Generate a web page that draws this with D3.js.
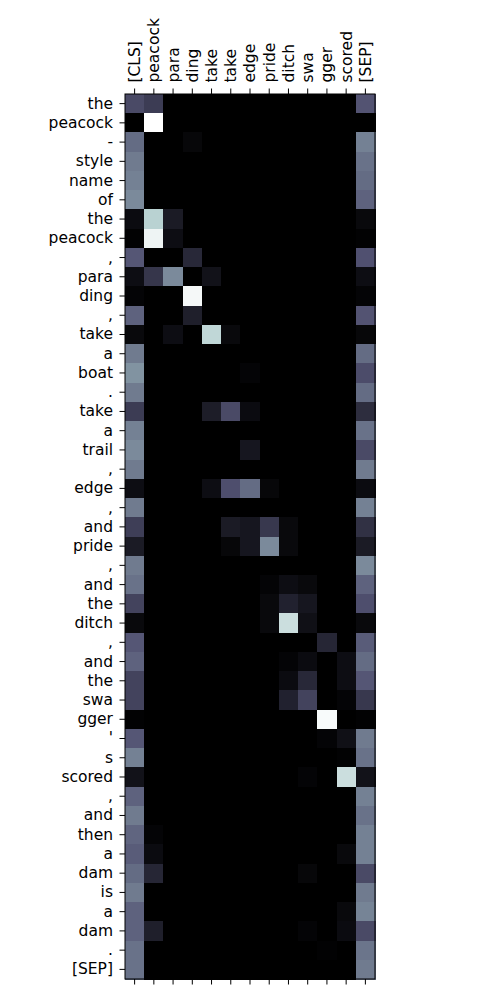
<!DOCTYPE html>
<html>
<head>
<meta charset="utf-8">
<script src="https://cdn.jsdelivr.net/npm/d3@7"></script>
<style>
  body { margin: 0; background: #fff; }
  text { font-family: "DejaVu Sans", sans-serif; }
</style>
</head>
<body>
<div id="chart"></div>
<script>
// key tokens (columns) and query tokens (rows)
var keyTokens = ["[CLS]", "peacock", "para", "ding", "take", "take", "edge", "pride", "ditch", "swa", "gger", "scored", "[SEP]"];
var queryTokens = ["the", "peacock", "-", "style", "name", "of", "the", "peacock", ",", "para", "ding", ",",
  "take", "a", "boat", ".", "take", "a", "trail", ",", "edge", ",", "and", "pride", ",", "and", "the", "ditch",
  ",", "and", "the", "swa", "gger", "'", "s", "scored", ",", "and", "then", "a", "dam", "is", "a", "dam", ".", "[SEP]"];

// attention weights, one row per query token
var weights = [
  [0.33, 0.27, 0, 0, 0, 0, 0, 0, 0, 0, 0, 0, 0.37],
  [0, 1.0, 0, 0, 0, 0, 0, 0, 0, 0, 0, 0, 0],
  [0.45, 0, 0, 0.03, 0, 0, 0, 0, 0, 0, 0, 0, 0.52],
  [0.50, 0, 0, 0, 0, 0, 0, 0, 0, 0, 0, 0, 0.47],
  [0.52, 0, 0, 0, 0, 0, 0, 0, 0, 0, 0, 0, 0.45],
  [0.55, 0, 0, 0, 0, 0, 0, 0, 0, 0, 0, 0, 0.42],
  [0.05, 0.80, 0.12, 0, 0, 0, 0, 0, 0, 0, 0, 0, 0.04],
  [0.01, 0.95, 0.06, 0, 0, 0, 0, 0, 0, 0, 0, 0, 0.01],
  [0.38, 0, 0, 0.18, 0, 0, 0, 0, 0, 0, 0, 0, 0.36],
  [0.06, 0.24, 0.55, 0, 0.08, 0, 0, 0, 0, 0, 0, 0, 0.06],
  [0.02, 0, 0, 0.97, 0, 0, 0, 0, 0, 0, 0, 0, 0.02],
  [0.42, 0, 0, 0.14, 0, 0, 0, 0, 0, 0, 0, 0, 0.37],
  [0.04, 0, 0.06, 0, 0.82, 0.04, 0, 0, 0, 0, 0, 0, 0.03],
  [0.50, 0, 0, 0, 0, 0, 0, 0, 0, 0, 0, 0, 0.45],
  [0.58, 0, 0, 0, 0, 0, 0.02, 0, 0, 0, 0, 0, 0.34],
  [0.50, 0, 0, 0, 0, 0, 0, 0, 0, 0, 0, 0, 0.45],
  [0.27, 0, 0, 0, 0.13, 0.33, 0.05, 0, 0, 0, 0, 0, 0.20],
  [0.52, 0, 0, 0, 0, 0, 0, 0, 0, 0, 0, 0, 0.47],
  [0.55, 0, 0, 0, 0, 0, 0.10, 0, 0, 0, 0, 0, 0.33],
  [0.50, 0, 0, 0, 0, 0, 0, 0, 0, 0, 0, 0, 0.50],
  [0.06, 0, 0, 0, 0.06, 0.35, 0.45, 0.03, 0, 0, 0, 0, 0.05],
  [0.50, 0, 0, 0, 0, 0, 0, 0, 0, 0, 0, 0, 0.52],
  [0.28, 0, 0, 0, 0, 0.12, 0.10, 0.25, 0.04, 0, 0, 0, 0.22],
  [0.12, 0, 0, 0, 0, 0.03, 0.10, 0.55, 0.04, 0, 0, 0, 0.12],
  [0.50, 0, 0, 0, 0, 0, 0, 0, 0, 0, 0, 0, 0.55],
  [0.47, 0, 0, 0, 0, 0, 0, 0.02, 0.06, 0.04, 0, 0, 0.42],
  [0.30, 0, 0, 0, 0, 0, 0, 0.04, 0.15, 0.10, 0, 0, 0.35],
  [0.04, 0, 0, 0, 0, 0, 0, 0.04, 0.85, 0.07, 0, 0, 0.04],
  [0.38, 0, 0, 0, 0, 0, 0, 0, 0, 0, 0.17, 0, 0.40],
  [0.42, 0, 0, 0, 0, 0, 0, 0, 0.02, 0.05, 0, 0.06, 0.45],
  [0.30, 0, 0, 0, 0, 0, 0, 0, 0.05, 0.18, 0, 0.06, 0.38],
  [0.30, 0, 0, 0, 0, 0, 0, 0, 0.15, 0.30, 0, 0.02, 0.25],
  [0.01, 0, 0, 0, 0, 0, 0, 0, 0, 0, 0.98, 0, 0.01],
  [0.38, 0, 0, 0, 0, 0, 0, 0, 0, 0, 0.02, 0.07, 0.50],
  [0.52, 0, 0, 0, 0, 0, 0, 0, 0, 0, 0, 0.01, 0.47],
  [0.08, 0, 0, 0, 0, 0, 0, 0, 0, 0.02, 0, 0.85, 0.08],
  [0.42, 0, 0, 0, 0, 0, 0, 0, 0, 0, 0, 0, 0.52],
  [0.50, 0, 0, 0, 0, 0, 0, 0, 0, 0, 0, 0, 0.47],
  [0.43, 0.02, 0, 0, 0, 0, 0, 0, 0, 0, 0, 0, 0.52],
  [0.40, 0.05, 0, 0, 0, 0, 0, 0, 0, 0, 0, 0.04, 0.52],
  [0.45, 0.17, 0, 0, 0, 0, 0, 0, 0, 0.03, 0, 0, 0.33],
  [0.50, 0, 0, 0, 0, 0, 0, 0, 0, 0, 0, 0, 0.50],
  [0.42, 0, 0, 0, 0, 0, 0, 0, 0, 0, 0, 0.04, 0.53],
  [0.42, 0.14, 0, 0, 0, 0, 0, 0, 0, 0.02, 0, 0.05, 0.33],
  [0.47, 0, 0, 0, 0, 0, 0, 0, 0, 0, 0.01, 0, 0.48],
  [0.47, 0, 0, 0, 0, 0, 0, 0, 0, 0, 0, 0, 0.50]
];

// matplotlib "bone" colormap
function piece(stops, t) {
  for (var i = 1; i < stops.length; i++) {
    if (t <= stops[i][0]) {
      var a = stops[i - 1], b = stops[i];
      return a[1] + (b[1] - a[1]) * (t - a[0]) / (b[0] - a[0]);
    }
  }
  return stops[stops.length - 1][1];
}
var boneR = [[0, 0], [0.746032, 0.652778], [1, 1]];
var boneG = [[0, 0], [0.365079, 0.319444], [0.746032, 0.777778], [1, 1]];
var boneB = [[0, 0], [0.365079, 0.444444], [1, 1]];
function bone(t) {
  t = Math.max(0, Math.min(1, t));
  return d3.rgb(piece(boneR, t) * 255, piece(boneG, t) * 255, piece(boneB, t) * 255) + "";
}

var margin = { top: 94, left: 125 },
    width = 250,
    height = 885,
    fontSize = "15.5px";

var svg = d3.select("#chart")
  .append("svg")
    .attr("width", 500)
    .attr("height", 1000)
  .append("g")
    .attr("transform", `translate(${margin.left}, ${margin.top})`);

var x = d3.scaleBand().domain(d3.range(keyTokens.length)).range([0, width]).padding(0);
var y = d3.scaleBand().domain(d3.range(queryTokens.length)).range([0, height]).padding(0);
var color = d3.scaleSequential(bone).domain([0, 1]);

// cells
var cells = [];
weights.forEach(function (row, i) {
  row.forEach(function (v, j) { cells.push({ r: i, c: j, v: v }); });
});

svg.selectAll("rect.cell")
  .data(cells)
  .enter()
  .append("rect")
    .attr("class", "cell")
    .attr("x", d => x(d.c))
    .attr("y", d => y(d.r))
    .attr("width", x.bandwidth() + 0.5)
    .attr("height", y.bandwidth() + 0.5)
    .attr("fill", d => color(d.v))
    .attr("shape-rendering", "crispEdges");

// axes
var xTop = svg.append("g")
  .call(d3.axisTop(x).tickFormat(i => keyTokens[i]).tickSize(5.5).tickPadding(5.5))
  .attr("font-size", fontSize);
xTop.selectAll("text")
  .attr("transform", "rotate(-90)")
  .attr("x", 11.5)
  .attr("y", 0)
  .attr("dy", "0.35em")
  .style("text-anchor", "start");

svg.append("g")
  .attr("transform", `translate(0, ${height})`)
  .call(d3.axisBottom(x).tickFormat("").tickSize(5.5));

svg.append("g")
  .call(d3.axisLeft(y).tickFormat(i => queryTokens[i]).tickSize(5.5).tickPadding(6.5))
  .attr("font-size", fontSize);

svg.selectAll(".domain").remove();
svg.selectAll(".tick text")
  .style("font-size", fontSize)
  .style("fill", "#000");
svg.selectAll(".tick line").attr("stroke", "#000");

// frame
svg.append("rect")
  .attr("width", width)
  .attr("height", height)
  .attr("fill", "none")
  .attr("stroke", "#000")
  .attr("stroke-width", 1);
</script>
</body>
</html>
